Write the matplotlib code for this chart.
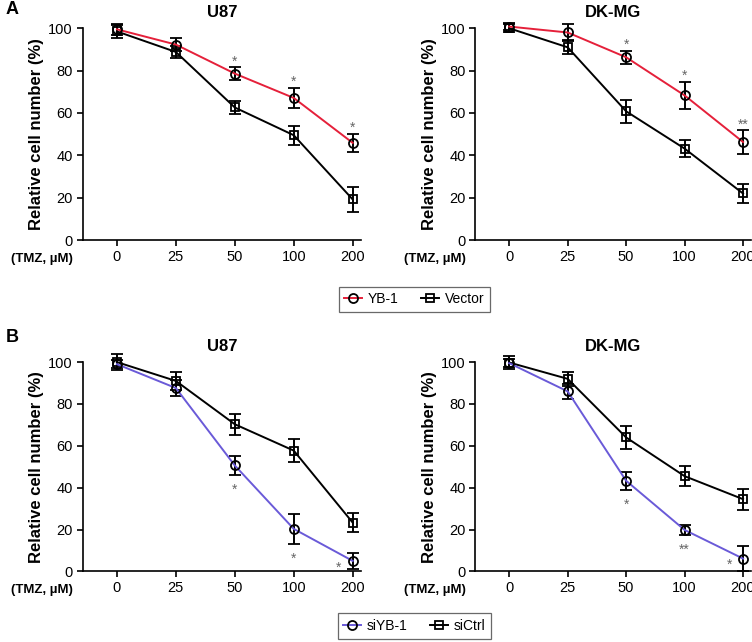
import matplotlib
matplotlib.use("Agg")
import matplotlib.pyplot as plt
from matplotlib.lines import Line2D

plt.rcParams['font.family'] = ['Liberation Sans', 'DejaVu Sans']

doses = ['0', '25', '50', '100', '200']

# panel A: YB-1 overexpression vs vector
a_u87_yb1 = [99.5, 92.3, 78.6, 67.1, 45.9]
a_u87_yb1_err = [2.5, 3.0, 3.0, 4.7, 4.3]
a_u87_vec = [98.5, 88.8, 62.6, 49.5, 19.2]
a_u87_vec_err = [3.0, 3.0, 3.0, 4.5, 6.0]
a_u87_sig = ['', '', '*', '*', '*']

a_dk_yb1 = [100.8, 98.0, 86.3, 68.3, 46.3]
a_dk_yb1_err = [1.5, 4.0, 3.0, 6.5, 5.5]
a_dk_vec = [100.0, 91.0, 60.8, 43.2, 22.0]
a_dk_vec_err = [2.0, 3.3, 5.3, 4.2, 4.3]
a_dk_sig = ['', '', '*', '*', '**']

# panel B: siYB-1 vs siCtrl
b_u87_si = [99.0, 87.6, 50.6, 20.3, 5.0]
b_u87_si_err = [2.0, 4.0, 4.5, 7.0, 4.0]
b_u87_ctrl = [100.0, 91.0, 70.3, 57.7, 23.3]
b_u87_ctrl_err = [4.0, 4.4, 5.0, 5.5, 4.4]
b_u87_sig = ['', '', '*', '*', '*']

b_dk_si = [99.5, 86.0, 43.3, 19.8, 6.1]
b_dk_si_err = [2.0, 3.5, 4.2, 2.3, 6.0]
b_dk_ctrl = [99.8, 92.0, 64.0, 45.5, 34.5]
b_dk_ctrl_err = [3.0, 3.5, 5.3, 4.7, 5.0]
b_dk_sig = ['', '', '*', '**', '*']

RED = '#e5203a'
PURPLE = '#6a5ad8'
x = list(range(len(doses)))


def draw_panel(ax, title, ctrl, ctrl_err, trt, trt_err, color, sig, above):
    ax.errorbar(x, ctrl, yerr=ctrl_err, color='black', lw=1.4, marker='s', ms=5.5,
                mfc='none', mec='black', mew=1.3, ecolor='black', elinewidth=1.4,
                capsize=4, capthick=1.4, clip_on=False, zorder=3)
    ax.errorbar(x, trt, yerr=trt_err, color=color, lw=1.4, marker='o', ms=6.5,
                mfc='none', mec='black', mew=1.3, ecolor='black', elinewidth=1.4,
                capsize=4, capthick=1.4, clip_on=False, zorder=4)
    for i, s in enumerate(sig):
        if not s:
            continue
        if above:
            ax.text(x[i], trt[i] + trt_err[i] - 0.5, s, ha='center', va='bottom',
                    fontsize=10, color='#666666')
        elif i == len(sig) - 1:
            ax.text(x[i] - 0.24, trt[i] - 6.5, s, ha='center', va='bottom',
                    fontsize=10, color='#666666')
        else:
            ax.text(x[i], trt[i] - trt_err[i] - 10.5, s, ha='center', va='bottom',
                    fontsize=10, color='#666666')
    ax.set_xlim(-0.58, 4.14)
    ax.set_ylim(0, 100)
    ax.set_xticks(x)
    ax.set_xticklabels(doses)
    ax.set_yticks([0, 20, 40, 60, 80, 100])
    ax.tick_params(labelsize=10.5, width=1.2, length=4, pad=3)
    for side in ['top', 'right']:
        ax.spines[side].set_visible(False)
    for side in ['left', 'bottom']:
        ax.spines[side].set_linewidth(1.2)
    ax.set_ylabel('Relative cell number (%)', fontsize=12, fontweight='bold', labelpad=3)
    ax.set_title(title, fontsize=12, fontweight='bold', pad=8)
    ax.text(-0.145, -0.088, '(TMZ, \u00b5M)', transform=ax.transAxes, ha='center',
            va='center', fontsize=9.5, fontweight='bold')


fig = plt.figure(figsize=(7.52, 6.42), dpi=100)
ax1 = fig.add_axes([0.110, 0.626, 0.370, 0.330])
ax2 = fig.add_axes([0.632, 0.626, 0.367, 0.330])
ax3 = fig.add_axes([0.110, 0.110, 0.370, 0.326])
ax4 = fig.add_axes([0.632, 0.110, 0.367, 0.326])

draw_panel(ax1, 'U87', a_u87_vec, a_u87_vec_err, a_u87_yb1, a_u87_yb1_err, RED, a_u87_sig, True)
draw_panel(ax2, 'DK-MG', a_dk_vec, a_dk_vec_err, a_dk_yb1, a_dk_yb1_err, RED, a_dk_sig, True)
draw_panel(ax3, 'U87', b_u87_ctrl, b_u87_ctrl_err, b_u87_si, b_u87_si_err, PURPLE, b_u87_sig, False)
draw_panel(ax4, 'DK-MG', b_dk_ctrl, b_dk_ctrl_err, b_dk_si, b_dk_si_err, PURPLE, b_dk_sig, False)

fig.text(0.008, 0.998, 'A', fontsize=13, fontweight='bold', va='top')
fig.text(0.008, 0.488, 'B', fontsize=13, fontweight='bold', va='top')


def legend_handles(color, names):
    h1 = Line2D([], [], color=color, lw=1.4, marker='o', ms=6.5, mfc='none', mec='black', mew=1.3)
    h2 = Line2D([], [], color='black', lw=1.4, marker='s', ms=5.5, mfc='none', mec='black', mew=1.3)
    return [h1, h2], names


for (color, names, ypos) in [(RED, ['YB-1', 'Vector'], 0.534), (PURPLE, ['siYB-1', 'siCtrl'], 0.025)]:
    hs, ls = legend_handles(color, names)
    leg = fig.legend(hs, ls, loc='center', bbox_to_anchor=(0.551, ypos), ncol=2,
                     fontsize=10, handlelength=1.3, handletextpad=0.4, columnspacing=1.6,
                     frameon=True, fancybox=False, borderpad=0.4)
    leg.get_frame().set_edgecolor('#444444')
    leg.get_frame().set_linewidth(0.9)

fig.savefig('out.png', dpi=100)
